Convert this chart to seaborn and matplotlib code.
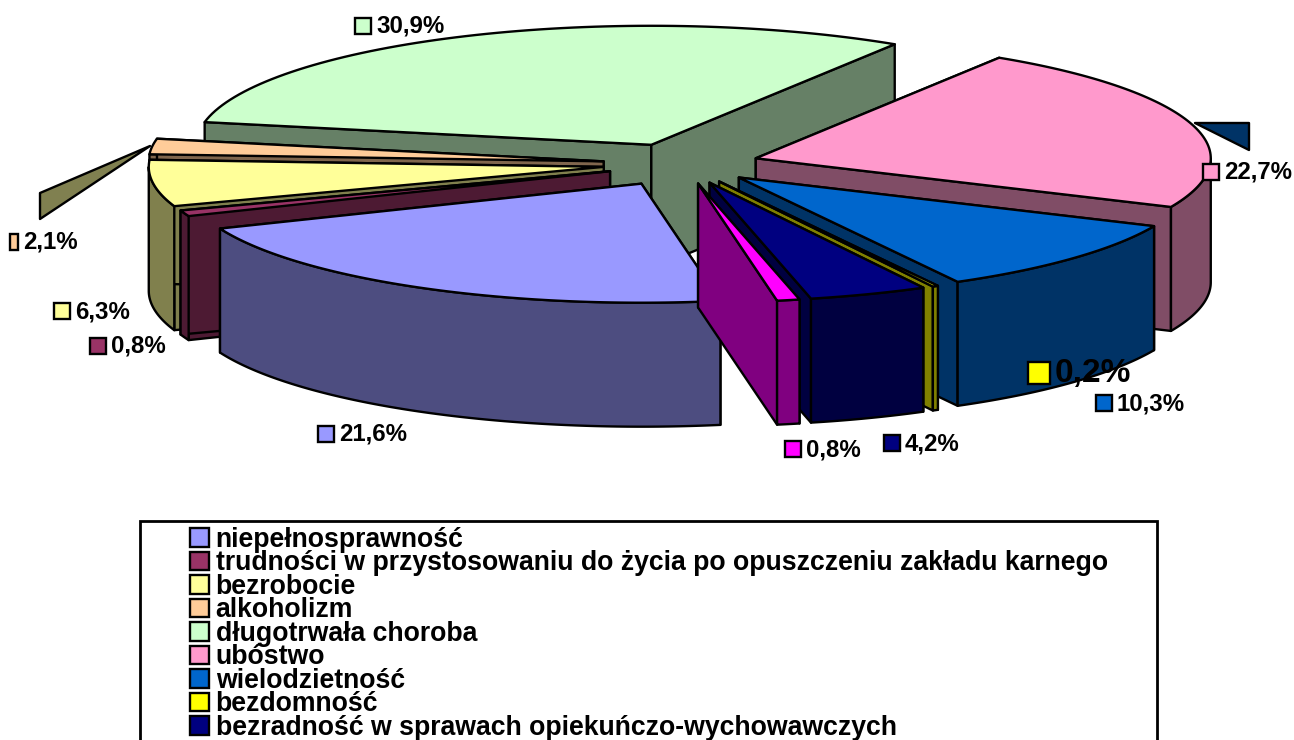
import numpy as np
import seaborn as sns
import matplotlib
matplotlib.use('Agg')
import matplotlib.pyplot as plt
from matplotlib.patches import Patch, Polygon, Rectangle

# data
labels = ['niepełnosprawność',
          'trudności w przystosowaniu do życia po opuszczeniu zakładu karnego',
          'bezrobocie', 'alkoholizm', 'długotrwała choroba', 'ubóstwo',
          'wielodzietność', 'bezdomność',
          'bezradność w sprawach opiekuńczo-wychowawczych']
values = [21.6, 0.8, 6.3, 2.1, 30.9, 22.7, 10.3, 0.2, 4.2, 0.8]
colors = ['#9999FF', '#993366', '#FFFF99', '#FFCC99', '#CCFFCC',
          '#FF99CC', '#0066CC', '#FFFF00', '#000080', '#FF00FF']

# where the value labels sit (square x, square y)
label_pos = [(326, 434), (98, 346), (62, 311), (14, 242), (363, 26),
             (1211, 172), (1104, 403), (1039, 373), (892, 443), (793, 449)]
label_size = [16, 16, 16, 16, 16, 16, 16, 22, 16, 16]

# pie geometry, in pixels
cx, cy = 683, 164
rx, ry = 455, 119
depth = 124
explode = [86, 78, 80, 80, 80, 76, 76, 76, 76, 76]
start = np.radians(-10)

sns.set_theme(style='white')
plt.rcParams['font.family'] = ['Liberation Sans', 'DejaVu Sans']
palette = sns.color_palette(colors)

fig = plt.figure(figsize=(12.94, 7.40), dpi=100)
ax = fig.add_axes([0, 0, 1, 1])
ax.set_xlim(0, 1294)
ax.set_ylim(740, 0)
ax.axis('off')

fractions = np.array(values) / sum(values)
edges = start + np.concatenate([[0], np.cumsum(fractions)]) * 2 * np.pi


def arc(x0, y0, a, b, n=80):
    t = np.linspace(a, b, n)
    return np.column_stack([x0 - rx * np.sin(t), y0 + ry * np.cos(t)])


def face(pts, color, z):
    ax.add_patch(Polygon(pts, closed=True, facecolor=color, edgecolor='black',
                         linewidth=1.7, joinstyle='round', zorder=z))


def draw_slice(i, z):
    a, b = edges[i], edges[i + 1]
    mid = (a + b) / 2
    x0 = cx - explode[i] * np.sin(mid)
    y0 = cy + explode[i] * ry / rx * np.cos(mid)
    top = palette[i]
    side = tuple(c * 0.5 for c in top)
    drop = np.array([0, depth])
    # cut faces first, the outer wall covers what is behind
    for ang in (a, b):
        p = arc(x0, y0, ang, ang, 1)[0]
        apex = np.array([x0, y0])
        face([apex, p, p + drop, apex + drop], side, z)
    # only the front part of the wall shows
    ts = np.linspace(a, b, 120)
    ts = ts[np.cos(ts) > 0]
    if len(ts) > 1:
        wall = np.column_stack([x0 - rx * np.sin(ts), y0 + ry * np.cos(ts)])
        face(np.vstack([wall, wall[::-1] + drop]), side, z + 0.1)
    face(np.vstack([[x0, y0], arc(x0, y0, a, b)]), top, z + 0.2)


# back to front
mids = (edges[:-1] + edges[1:]) / 2
order = np.argsort(np.cos(mids))
for z, i in enumerate(order):
    draw_slice(i, 2 + z)

# stray bits of the original drawing
face([(150, 146), (40, 193), (40, 219)], '#808050', 1)
face([(1195, 123), (1249, 123), (1249, 150)], '#003366', 1)

# value labels
for i, v in enumerate(values):
    x, y = label_pos[i]
    s = label_size[i]
    w = 8 if i == 3 else s
    ax.add_patch(Rectangle((x - w / 2, y - s / 2), w, s, facecolor=palette[i],
                           edgecolor='black', linewidth=1.7, zorder=50))
    txt = f'{v:.1f}'.replace('.', ',') + '%'
    ax.text(x + w / 2 + 5, y + 0.5, txt, fontsize=24 if i == 7 else 17.3,
            fontweight='bold', color='black', va='center', ha='left', zorder=51)

# legend box runs off the bottom of the picture
ax.add_patch(Rectangle((140, 521), 1017, 240, facecolor='white',
                       edgecolor='black', linewidth=2, zorder=60))
handles = [Patch(facecolor=palette[i], edgecolor='black', linewidth=1.7)
           for i in range(len(labels))]
leg = ax.legend(handles, labels, loc='upper left', bbox_to_anchor=(186 / 1294, 1 - 523 / 740),
                bbox_transform=fig.transFigure, frameon=False, borderpad=0.15,
                borderaxespad=0, prop={'weight': 'bold', 'size': 19.2}, labelcolor='black',
                labelspacing=-0.095, handlelength=0.7, handleheight=0.7, handletextpad=0.26)
leg.set_zorder(61)

sns.despine(left=True, bottom=True)
fig.savefig('out.png', dpi=100, facecolor='white')
